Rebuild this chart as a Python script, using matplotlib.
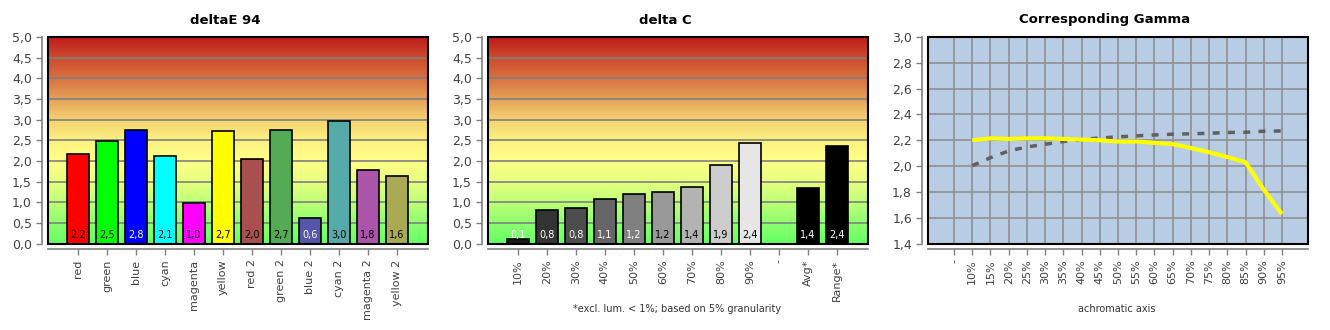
import matplotlib
matplotlib.use("Agg")
import matplotlib.pyplot as plt
from matplotlib.colors import LinearSegmentedColormap
from matplotlib.patches import Rectangle
import numpy as np

# ---- data ----
de_cats = ["red", "green", "blue", "cyan", "magenta", "yellow",
           "red 2", "green 2", "blue 2", "cyan 2", "magenta 2", "yellow 2"]
de_vals = [2.16, 2.48, 2.76, 2.13, 0.99, 2.72, 2.04, 2.74, 0.61, 2.96, 1.77, 1.63]
de_colors = ["#ff0000", "#00ff00", "#0000ff", "#00ffff", "#ff00ff", "#ffff00",
             "#a85050", "#55aa55", "#5555aa", "#55aaaa", "#aa55aa", "#aaaa55"]
de_txt = ["k", "k", "w", "k", "k", "k", "k", "k", "w", "k", "k", "k"]

dc_cats = ["10%", "20%", "30%", "40%", "50%", "60%", "70%", "80%", "90%", "-", "Avg*", "Range*"]
dc_vals = [0.11, 0.82, 0.85, 1.07, 1.21, 1.24, 1.38, 1.89, 2.43, None, 1.35, 2.36]
dc_colors = ["#1a1a1a", "#333333", "#4d4d4d", "#666666", "#808080", "#999999",
             "#b3b3b3", "#cccccc", "#e6e6e6", "#ffffff", "#000000", "#000000"]
dc_txt = ["w", "w", "w", "w", "w", "k", "k", "k", "k", "k", "w", "w"]

gm_cats = ["-", "10%", "15%", "20%", "25%", "30%", "35%", "40%", "45%", "50%",
           "55%", "60%", "65%", "70%", "75%", "80%", "85%", "90%", "95%"]
gm_yellow = [2.20, 2.215, 2.21, 2.215, 2.215, 2.21, 2.205, 2.20, 2.19,
             2.19, 2.18, 2.17, 2.14, 2.107, 2.07, 2.03, 1.817, 1.628]
gm_gray = [2.003, 2.065, 2.117, 2.148, 2.169, 2.19, 2.205, 2.218, 2.226,
           2.234, 2.241, 2.247, 2.25, 2.254, 2.26, 2.262, 2.27, 2.272]

W, H = 1330, 330
fig = plt.figure(figsize=(W / 100, H / 100), dpi=100)
fig.patch.set_facecolor("white")

grad = LinearSegmentedColormap.from_list("bg", [
    (0.0, "#66ff66"), (0.1, "#90ff70"), (0.2, "#c0ff78"), (0.3, "#e8ff80"),
    (0.4, "#ffff88"), (0.5, "#fcf080"), (0.6, "#f4d070"), (0.7, "#e4a058"),
    (0.8, "#d87040"), (0.9, "#cc4a2e"), (1.0, "#c01a1a")])

TICKC = "#404040"


def comma(v, fmt="%.1f"):
    return (fmt % v).replace(".", ",")


def setup(ax, xlim, ylim, yticks, fmt):
    ax.set_xlim(*xlim)
    ax.set_ylim(*ylim)
    for s in ["top", "right"]:
        ax.spines[s].set_visible(False)
    for s in ["left", "bottom"]:
        ax.spines[s].set_position(("outward", 4))
        ax.spines[s].set_color("#808080")
        ax.spines[s].set_linewidth(1.2)
    ax.set_yticks(yticks)
    ax.set_yticklabels([comma(v, fmt) for v in yticks])
    ax.tick_params(axis="both", colors="#808080", labelcolor=TICKC,
                   length=4, width=1)
    ax.tick_params(axis="y", labelsize=9)
    ax.tick_params(axis="x", labelsize=8)
    ax.add_patch(Rectangle((0, 0), 1, 1, transform=ax.transAxes, fill=False,
                           edgecolor="black", lw=1.5, zorder=10, clip_on=False))


def panel_axes(x0):
    return fig.add_axes([x0 / W, (H - 243.5) / H, 380 / W, 206.5 / H])


def bar_panel(x0, title, cats, vals, colors, txtc):
    ax = panel_axes(x0 + 48)
    xs = np.arange(len(cats))
    setup(ax, (-1.03, len(cats) + 0.07), (0, 5), np.arange(0, 5.01, 0.5), "%.1f")
    ax.imshow(np.linspace(0, 1, 256).reshape(-1, 1), cmap=grad, origin="lower",
              extent=[-1.03, len(cats) + 0.07, 0, 5], aspect="auto", zorder=0)
    for y in np.arange(0.5, 5.0, 0.5):
        ax.axhline(y, color="#808080", lw=1.2, zorder=1)
    for x, v, c, tc in zip(xs, vals, colors, txtc):
        if v is None:
            continue
        ax.bar(x, v, width=0.76, color=c, edgecolor="black", lw=1.2, zorder=3)
        ax.text(x, 0.08, comma(v), ha="center", va="bottom", fontsize=7,
                color=tc, zorder=4)
    ax.set_xticks(xs)
    ax.set_xticklabels(cats, rotation=90)
    fig.text((x0 + 225) / W, 1 - 20 / H, title, ha="center", va="center",
             fontsize=9.5, fontweight="bold")
    return ax


bar_panel(0, "deltaE 94", de_cats, de_vals, de_colors, de_txt)
bar_panel(440, "delta C", dc_cats, dc_vals, dc_colors, dc_txt)
fig.text(677 / W, 1 - 309 / H, "*excl. lum. < 1%; based on 5% granularity",
         ha="center", va="center", fontsize=7, color="#333333")

# gamma panel
ax = panel_axes(928)
xs = np.arange(len(gm_cats))
setup(ax, (-1.43, len(gm_cats) - 1 + 1.43), (1.4, 3.0),
      np.round(np.arange(1.4, 3.01, 0.2), 1), "%.1f")
ax.set_facecolor("#b8cce4")
ax.grid(True, color="#909090", lw=1.2, zorder=1)
ax.set_axisbelow(True)
ax.set_xticks(xs)
ax.set_xticklabels(gm_cats, rotation=90)
ax.plot(xs[1:], gm_yellow, color="#ffff00", lw=3, zorder=4, solid_capstyle="butt")
ax.plot(xs[1:], gm_gray, color="#606060", lw=2.5, zorder=3, linestyle=(0, (2, 2.4)))
fig.text(1105 / W, 1 - 20 / H, "Corresponding Gamma", ha="center", va="center",
         fontsize=9.5, fontweight="bold")
fig.text(1117 / W, 1 - 309 / H, "achromatic axis", ha="center", va="center",
         fontsize=7, color="#333333")

fig.savefig("out.png", dpi=100, facecolor="white")
